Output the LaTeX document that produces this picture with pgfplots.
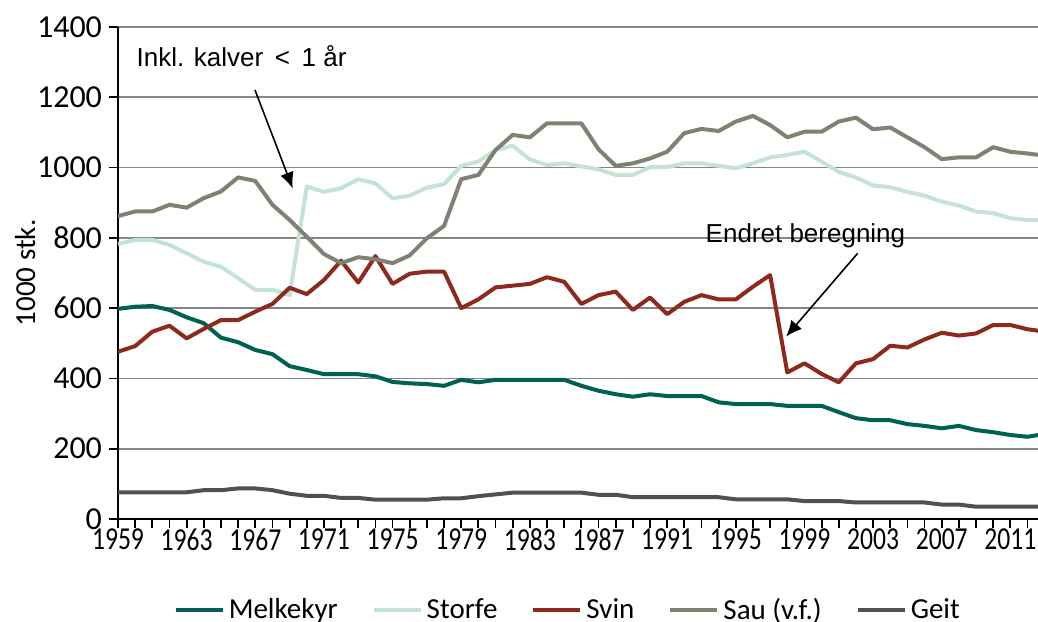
\documentclass[border=0pt]{standalone}
\usepackage{pgfplots}
\pgfplotsset{compat=1.18}
\usepackage{pgfplotstable}
\usepackage{fontspec}
\setmainfont{Carlito}
\newfontfamily\arialf{Liberation Sans}
\newfontfamily\condf[FakeStretch=0.8]{Carlito}
\usetikzlibrary{arrows.meta}
\definecolor{cMelk}{RGB}{0,96,82}
\definecolor{cStorfe}{RGB}{196,227,215}
\definecolor{cSvin}{RGB}{140,42,28}
\definecolor{cSau}{RGB}{127,129,115}
\definecolor{cGeit}{RGB}{80,80,80}
\definecolor{cGrid}{RGB}{134,134,134}

\pgfplotstableread{
year melk storfe svin sau geit
1959 598 783 476 862 76
1960 604 794 492 875 76
1961 606 794 533 875 76
1962 595 780 550 894 76
1963 574 756 514 886 76
1964 557 732 541 913 82
1965 516 718 566 932 82
1966 503 685 566 972 87
1967 481 652 590 962 87
1968 469 652 612 894 82
1969 435 637 658 851 72
1970 424 946 640 803 66
1971 412 931 680 754 66
1972 412 941 735 728 60
1973 412 967 673 745 60
1974 406 955 748 739 55
1975 390 913 669 728 55
1976 386 920 698 750 55
1977 384 943 704 799 55
1978 379 953 704 834 59
1979 396 1005 600 967 59
1980 389 1017 625 979 65
1981 396 1050 659 1050 70
1982 396 1062 664 1093 75
1983 396 1023 669 1086 75
1984 396 1007 688 1126 75
1985 396 1012 675 1126 75
1986 379 1003 612 1126 75
1987 365 995 637 1052 69
1988 355 979 647 1005 69
1989 348 979 595 1012 62
1990 355 1001 630 1026 62
1991 350 1001 583 1045 62
1992 350 1012 618 1098 62
1993 350 1012 637 1110 62
1994 332 1005 625 1104 62
1995 327 998 625 1131 56
1996 327 1012 661 1147 56
1997 327 1029 694 1121 56
1998 322 1036 417 1086 56
1999 322 1045 443 1102 51
2000 322 1017 413 1102 51
2001 304 988 389 1131 51
2002 287 972 443 1142 47
2003 281 949 455 1109 47
2004 281 944 493 1114 47
2005 270 931 488 1086 47
2006 265 920 511 1058 47
2007 258 903 530 1024 41
2008 265 892 522 1029 41
2009 253 875 528 1029 35
2010 247 870 552 1058 35
2011 239 856 552 1045 35
2012 234 851 540 1040 35
2013 242 851 533 1034 35
}\datatable

\begin{document}
\begin{tikzpicture}
\begin{axis}[
  scale only axis,
  width=460pt, height=246pt,
  at={(0,0)}, anchor=south west,
  xmin=1959, xmax=2012.61,
  ymin=0, ymax=1400,
  xtick={1959,1963,...,2011},
  minor xtick={1959,1960,...,2013},
  ytick={0,200,...,1400},
  axis x line*=bottom, axis y line*=left,
  axis line style={-, black, line width=1.2pt},
  tick align=outside,
  major tick length=4.5pt, minor tick length=4.5pt,
  every tick/.style={black, line width=0.9pt},
  minor tick style={black, line width=0.9pt},
  ymajorgrids,
  major grid style={cGrid, line width=0.8pt},
  /pgf/number format/assume math mode=true,
  /pgf/number format/1000 sep={},
  yticklabel style={font=\fontsize{16}{18}\selectfont},
  xticklabel style={font=\condf\fontsize{16}{18}\selectfont, yshift=3pt},
  ylabel={1000 stk.},
  ylabel style={font=\fontsize{14.5}{17}\selectfont, at={(axis description cs:-0.101,0.5)}, anchor=center},
  legend columns=5,
  legend style={draw=none, fill=none, font=\fontsize{14.5}{17}\selectfont,
    at={(axis description cs:0.49,0)}, anchor=center, yshift=-45.5pt,
    /tikz/every even column/.append style={column sep=15pt}},
  legend image code/.code={\draw[#1, line width=2pt] (0pt,0pt) -- (23.5pt,0pt);},
  every axis plot/.append style={line width=2pt, line join=round},
  clip=true,
]
\addplot[cMelk] table[x=year, y=melk] {\datatable};
\addlegendentry{Melkekyr}
\addplot[cStorfe] table[x=year, y=storfe] {\datatable};
\addlegendentry{Storfe}
\addplot[cSvin] table[x=year, y=svin] {\datatable};
\addlegendentry{Svin}
\addplot[cSau] table[x=year, y=sau] {\datatable};
\addlegendentry{Sau (v.f.)}
\addplot[cGeit] table[x=year, y=geit] {\datatable};
\addlegendentry{Geit}

\node[font=\arialf\fontsize{13}{15}\selectfont, anchor=center] at (axis cs:1966.2,1316) {Inkl. kalver \,<\, 1 år};
\draw[-{Latex[length=8pt,width=7pt]}, black, line width=0.8pt] (axis cs:1966.98,1221) -- (axis cs:1969.18,941);
\node[font=\arialf\fontsize{13}{15}\selectfont, anchor=center] at (axis cs:1999.06,805) {Endret beregning};
\draw[-{Latex[length=8pt,width=7pt]}, black, line width=0.8pt] (axis cs:2002.1,756) -- (axis cs:1997.93,519);
\end{axis}
\pgfresetboundingbox
\path[use as bounding box] (-59pt,-51pt) rectangle (460pt,259.5pt);
\end{tikzpicture}
\end{document}
